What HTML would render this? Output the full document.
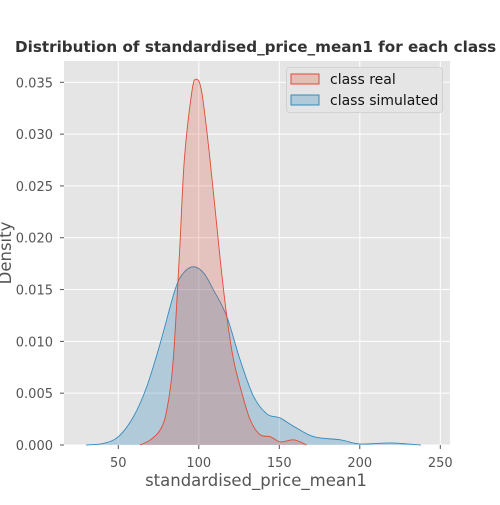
<!DOCTYPE html>
<html><head><meta charset="utf-8"><style>
body{margin:0;background:#fff;overflow:hidden;}
svg text{font-family:"DejaVu Sans","Liberation Sans",sans-serif;}
</style></head><body>
<svg width="500" height="500" xmlns="http://www.w3.org/2000/svg">
<rect width="500" height="500" fill="#fff"/>
<text x="15" y="52" font-size="15.2" font-weight="bold" fill="#333">Distribution of standardised_price_mean1 for each class</text>
<rect x="64" y="61" width="386" height="384" fill="#E5E5E5"/>
<g id="grid"></g>
<g id="series"></g>
<g id="axes"></g>
<text x="256" y="486" font-size="16.5" fill="#555" text-anchor="middle">standardised_price_mean1</text>
<text x="0" y="0" font-size="16.5" fill="#555" text-anchor="middle" transform="translate(11,253) rotate(-90)">Density</text>
<g>
<rect x="286.5" y="67.5" width="156" height="45" rx="3" fill="#E5E5E5" stroke="#ccc" stroke-width="0.8"/>
<rect x="291" y="74" width="28" height="10" fill="rgba(226,74,51,0.25)" stroke="#E24A33"/>
<text x="330" y="84" font-size="14" fill="#111">class real</text>
<rect x="291" y="95" width="28" height="10" fill="rgba(52,138,189,0.3)" stroke="#348ABD"/>
<text x="330" y="105" font-size="14" fill="#111">class simulated</text>
</g>
</svg>
<script>
const xTicks=[50,100,150,200,250];
const yTicks=[0,0.005,0.010,0.015,0.020,0.025,0.030,0.035];
const yTickLabels=["0.000","0.005","0.010","0.015","0.020","0.025","0.030","0.035"];
const realX=[63.5,70,76,80,84,88,91,95.6,98.3,101.9,107,113.3,117.4,121.6,126.8,132,138,144.4,150.6,159,167];
const realY=[0,0.0005,0.00145,0.0033,0.008,0.0185,0.0275,0.034,0.0353,0.034,0.0275,0.0179,0.0124,0.0082,0.005,0.0024,0.001,0.0008,0.0003,0.0005,0];
const simX=[30,40.7,50,59.3,67.6,76,85.3,90.5,96.7,103,109,117.4,125.7,134,142.3,150.6,159,171.4,188,200,218,229.5,238];
const simY=[0,0.00015,0.0008,0.0027,0.0056,0.0098,0.015,0.0166,0.0172,0.0166,0.015,0.0124,0.0082,0.0047,0.003,0.0026,0.0018,0.0008,0.0005,0.0001,0.0002,0.0001,0];
const NS="http://www.w3.org/2000/svg";
const sx=v=>118.3+(v-50)*1.61;
const sy=v=>445-v*(362.7/0.035);
function mk(t,a,p){const e=document.createElementNS(NS,t);for(const k in a)e.setAttribute(k,a[k]);p.appendChild(e);return e;}
const grid=document.getElementById('grid'),axes=document.getElementById('axes'),ser=document.getElementById('series');
xTicks.forEach(v=>{
 const l=mk('line',{x1:sx(v),x2:sx(v),y1:61,y2:445,stroke:'#fff','stroke-width':1},grid);
 
 
 mk('line',{x1:sx(v),x2:sx(v),y1:445,y2:449,stroke:'#555'},axes);
 const t=mk('text',{x:sx(v),y:467,'font-size':13,fill:'#555','text-anchor':'middle'},axes);t.textContent=v;
 
 
});
yTicks.forEach((v,i)=>{
 const l=mk('line',{x1:64,x2:450,y1:sy(v),y2:sy(v),stroke:'#fff','stroke-width':1},grid);
 
 
 mk('line',{x1:60,x2:64,y1:sy(v),y2:sy(v),stroke:'#555'},axes);
 const t=mk('text',{x:53,y:sy(v)+5,'font-size':13,fill:'#555','text-anchor':'end'},axes);t.textContent=yTickLabels[i];
 
 
});
function smooth(xs,ys){
 const p=xs.map((x,i)=>[sx(x),sy(ys[i])]);
 let d='M'+p[0][0]+','+p[0][1];
 for(let i=0;i<p.length-1;i++){
  const p0=p[Math.max(0,i-1)],p1=p[i],p2=p[i+1],p3=p[Math.min(p.length-1,i+2)];
  const c1=[p1[0]+(p2[0]-p0[0])/6,p1[1]+(p2[1]-p0[1])/6];
  const c2=[p2[0]-(p3[0]-p1[0])/6,p2[1]-(p3[1]-p1[1])/6];
  d+=` C${c1[0]},${Math.min(445,c1[1])} ${c2[0]},${Math.min(445,c2[1])} ${p2[0]},${p2[1]}`;
 }
 return d;
}
function draw(xs,ys,col,fill,name){
 const d=smooth(xs,ys);
 const a=mk('path',{d:d+' Z',fill:fill,stroke:'none'},ser);
 
 
 const l=mk('path',{d:d,fill:'none',stroke:col,'stroke-width':0.9},ser);
 
 
}
draw(simX,simY,'#348ABD','rgba(52,138,189,0.3)','simulated-density');
draw(realX,realY,'#E24A33','rgba(226,74,51,0.22)','real-density');
</script>
</body></html>
